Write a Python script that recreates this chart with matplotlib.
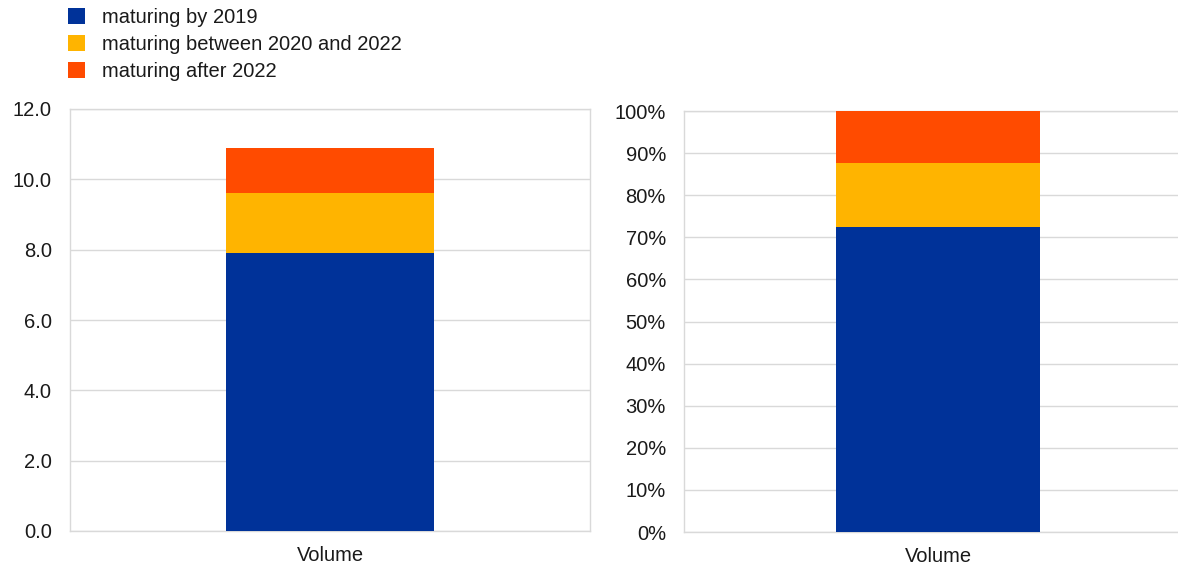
import matplotlib
matplotlib.use("Agg")
import matplotlib.pyplot as plt
from matplotlib.patches import Patch

plt.rcParams['font.family'] = ['Liberation Sans', 'DejaVu Sans']

categories = ["Volume"]
series_names = ["maturing by 2019", "maturing between 2020 and 2022", "maturing after 2022"]
volume_values = [7.9, 1.7, 1.3]       # EUR, stacked segments
share_values = [72.5, 15.2, 12.3]     # percent, stacked segments
colors = ["#003299", "#FFB400", "#FF4B00"]

left_ticks = [0, 2, 4, 6, 8, 10, 12]
left_ticklabels = ["0.0", "2.0", "4.0", "6.0", "8.0", "10.0", "12.0"]
right_ticks = list(range(0, 101, 10))
right_ticklabels = [f"{t}%" for t in right_ticks]

W, H = 1178, 566
fig = plt.figure(figsize=(W / 100, H / 100), dpi=100)

def px_axes(x0, x1, ytop, ybot):
    return fig.add_axes([x0 / W, 1 - ybot / H, (x1 - x0) / W, (ybot - ytop) / H])

ax1 = px_axes(70, 590, 109, 531)
ax2 = px_axes(684, 1192, 111, 532)

text_color = "#1a1a1a"
grid_color = "#d9d9d9"
fs = 14.5

def draw(ax, values, ylim, ticks, ticklabels):
    bottom = 0
    for v, c, name in zip(values, colors, series_names):
        ax.bar(categories, [v], bottom=[bottom], width=0.4, color=c, label=name, zorder=3)
        bottom += v
    ax.set_xlim(-0.5, 0.5)
    ax.set_ylim(*ylim)
    ax.set_yticks(ticks)
    ax.set_yticklabels(ticklabels)
    ax.yaxis.grid(True, color=grid_color, linewidth=1, zorder=0)
    ax.set_axisbelow(True)
    for s in ax.spines.values():
        s.set_color(grid_color)
        s.set_linewidth(1)
    ax.tick_params(axis='y', length=0, pad=13, labelsize=fs, labelcolor=text_color)
    ax.tick_params(axis='x', length=0, pad=11, labelsize=fs, labelcolor=text_color)

draw(ax1, volume_values, (0, 12), left_ticks, left_ticklabels)
draw(ax2, share_values, (0, 100), right_ticks, right_ticklabels)

handles = [Patch(facecolor=c, edgecolor='none') for c in colors]
fig.legend(handles, series_names, loc='upper left', bbox_to_anchor=(60 / W, 1 - 0 / H),
           frameon=False, fontsize=fs, handlelength=0.85, handleheight=0.85,
           handletextpad=0.85, labelspacing=0.4, borderaxespad=0, labelcolor=text_color)

fig.savefig("out.png", dpi=100)
